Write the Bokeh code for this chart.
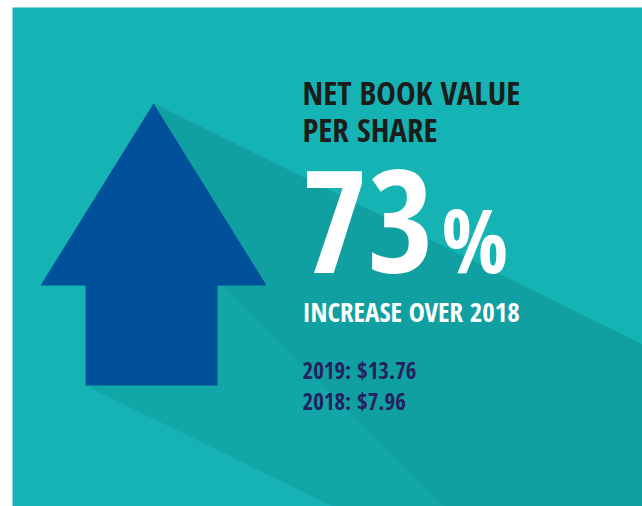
from bokeh.plotting import figure
from bokeh.models import Range1d
from bokeh.embed import file_html
from bokeh.resources import INLINE
from bokeh.core.properties import value

# ---- data ----
title_lines = ["NET BOOK VALUE", "PER SHARE"]
years = ["2019", "2018"]
book_values = [13.76, 7.96]
increase_label = "INCREASE OVER 2018"
pct = round((book_values[0] - book_values[1]) / book_values[1] * 100)

# ---- decorative geometry (screen-like coordinates) ----
panel_x = [12, 642]
panel_y = [7, 506]
arrow_xs = [153, 266, 217, 217, 85, 85, 40]
arrow_ys = [103, 285, 285, 385, 385, 285, 285]
shadow_xs = [153, 642, 642, 332, 85]
shadow_ys = [103, 344, 506, 506, 385]
shadow2_xs = [153, 642, 642, 444, 217]
shadow2_ys = [103, 344, 506, 506, 279]

BG = "#16b3b4"
SH1 = "#13a6a8"
SH2 = "#11a0a2"
ARROW = "#01519a"
DARK = "#1c1c1a"
NAVY = "#23225e"
FONT = value("Open Sans Condensed")
K = 0.41  # empirical baseline correction (fraction of font size)

p = figure(width=642, height=506, x_range=Range1d(0, 642), y_range=Range1d(506, 0),
           output_backend="svg", toolbar_location=None, min_border=0)
p.axis.visible = False
p.grid.visible = False
p.outline_line_color = None
p.background_fill_color = "white"
p.border_fill_color = "white"

p.quad(left=panel_x[0], right=panel_x[1], top=panel_y[0], bottom=panel_y[1],
       fill_color=BG, line_color=None)
p.patch(shadow_xs, shadow_ys, fill_color=SH1, line_color=None)
p.patch(shadow2_xs, shadow2_ys, fill_color=SH2, line_color=None)
p.patch(arrow_xs, arrow_ys, fill_color=ARROW, line_color=None)


def txt(xs, ys, texts, size, color, k=K):
    p.text(x=xs, y=[y - k * size for y in ys], text=texts, text_font=FONT, text_font_style="bold",
           text_font_size=f"{size}px", text_color=color, text_baseline="alphabetic")


tx = 302
txt([tx, tx], [106, 143], title_lines, 33, DARK)
txt([tx - 1], [275], [str(pct)], 143, "white", k=0.375)
txt([441], [275], ["%"], 88, "white")
txt([tx], [322], [increase_label], 27, "white")
vals = [f"{y}:  ${v:.2f}" for y, v in zip(years, book_values)]
txt([tx, tx], [379, 410], vals, 23, NAVY)

open("out.html", "w").write(file_html(p, INLINE))
